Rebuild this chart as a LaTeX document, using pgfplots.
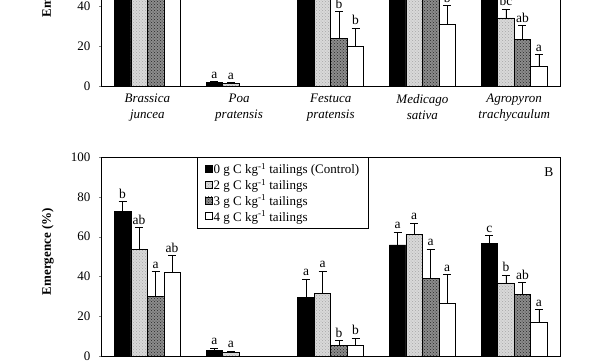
\documentclass[border=0pt]{standalone}
\usepackage{pgfplots}
\pgfplotsset{compat=1.18}
\usepackage{fontspec}
\setmainfont{Liberation Serif}
\usetikzlibrary{patterns}
\definecolor{lightbar}{gray}{0.85}
\definecolor{darkbar}{gray}{0.55}
\pgfplotsset{
  panel/.style={
    ybar, bar width=16.5pt,
    scale only axis, width=458.5pt, height=199pt, anchor=south west,
    xmin=-0.5, xmax=4.5, ymin=0, ymax=100,
    ytick={0,20,...,100}, xtick={0,1,2,3,4},
    xticklabels={{\textit{Brassica}\\\textit{juncea}},{\textit{Poa}\\\textit{pratensis}},{\textit{Festuca}\\\textit{pratensis}},{\textit{Medicago}\\\textit{sativa}},{\textit{Agropyron}\\\textit{trachycaulum}}},
    xticklabel style={align=center, font=\fontsize{13}{16}\selectfont, yshift=-2pt},
    yticklabel style={font=\fontsize{13}{15}\selectfont, xshift=-5pt},
    /pgf/number format/assume math mode=true,
    tick align=outside, ytick pos=left, major tick length=2.5pt,
    xtick style={draw=none},
    axis line style={line width=0.7pt},
    every axis y label/.style={rotate=90, anchor=center, font=\fontsize{13}{15}\selectfont\bfseries},
    ylabel={Emergence (\%)},
    legend image code/.code={\draw[#1] (0pt,-3pt) rectangle (7pt,4pt);},
  },
  barcommon/.style={draw=black, line width=0.7pt,
    error bars/y dir=plus, error bars/y explicit,
    error bars/error bar style={line width=0.7pt, black},
    error bars/error mark options={rotate=90, mark size=4pt, line width=0.7pt, black}},
  b0/.style={barcommon, bar shift=-24.75pt, fill=black},
  b1/.style={barcommon, bar shift=-8.25pt, fill=lightbar, postaction={pattern=crosshatch dots, pattern color=gray!70}},
  b2/.style={barcommon, bar shift=8.25pt, fill=darkbar, postaction={pattern=crosshatch dots, pattern color=black!85}},
  b3/.style={barcommon, bar shift=24.75pt, fill=white},
  lett/.style={bar shift=#1, draw=none, fill=none, forget plot,
    nodes near coords, point meta=explicit symbolic,
    every node near coord/.append style={font=\fontsize{13.5}{15}\selectfont, inner sep=1pt, yshift=2pt}},
}
\begin{document}
\begin{tikzpicture}[x=1pt,y=1pt]
\useasboundingbox (0,0) rectangle (600,360);
\clip (0,0) rectangle (600,360);
% ---------- Panel A (top, cropped) ----------
\begin{axis}[panel, at={(101.5pt,274pt)},
  every axis y label/.append style={at={(axis description cs:-0.117,0.565)}}]
\addplot[b0] coordinates {(0,85) +- (0,4) (1,1.6) +- (0,0.6) (2,60) +- (0,5) (3,62) +- (0,5) (4,55) +- (0,5)};
\addplot[b1] coordinates {(0,80) +- (0,5) (1,1.2) +- (0,0.4) (2,52) +- (0,6) (3,60) +- (0,5) (4,34.2) +- (0,4.5)};
\addplot[b2] coordinates {(0,76) +- (0,5) (2,23.7) +- (0,13.8) (3,57) +- (0,6) (4,23.2) +- (0,7.1)};
\addplot[b3] coordinates {(0,72) +- (0,5) (2,19.8) +- (0,9.3) (3,30.8) +- (0,9.6) (4,10.1) +- (0,5.6)};
\addplot[lett=-24.75pt] coordinates {(1,2.2)[a]};
\addplot[lett=-8.25pt] coordinates {(1,1.6)[a] (4,38.7)[bc]};
\addplot[lett=8.25pt] coordinates {(2,37.5)[b] (4,30.3)[ab]};
\addplot[lett=24.75pt] coordinates {(2,29.1)[b] (3,40.4)[b] (4,15.7)[a]};
\end{axis}
% ---------- Panel B (bottom) ----------
\begin{axis}[panel, at={(101.5pt,4pt)},
  every axis y label/.append style={at={(axis description cs:-0.117,0.524)}},
  legend style={at={(axis description cs:0.2076,1)}, anchor=north west, draw=black, line width=0.5pt,
    font=\fontsize{13}{15}\selectfont, inner xsep=8pt, inner ysep=5pt, row sep=2pt,
    nodes={inner sep=1pt}},
  legend cell align=left]
\addplot[b0] coordinates {(0,72.7) +- (0,5) (1,2.8) +- (0,1.2) (2,29.5) +- (0,9.2) (3,55.8) +- (0,6.4) (4,56.6) +- (0,4)};
\addlegendentry{0 g C kg\textsuperscript{-1} tailings (Control)}
\addplot[b1] coordinates {(0,53.5) +- (0,11) (1,1.6) +- (0,0.9) (2,31.5) +- (0,11.1) (3,61.3) +- (0,5.5) (4,36.7) +- (0,4)};
\addlegendentry{2 g C kg\textsuperscript{-1} tailings}
\addplot[b2] coordinates {(0,30) +- (0,12.3) (2,5.2) +- (0,2.5) (3,39) +- (0,14.8) (4,31) +- (0,6)};
\addlegendentry{3 g C kg\textsuperscript{-1} tailings}
\addplot[b3] coordinates {(0,42) +- (0,8.4) (2,5.2) +- (0,3.7) (3,26.6) +- (0,14.4) (4,16.9) +- (0,6.4)};
\addlegendentry{4 g C kg\textsuperscript{-1} tailings}
\addplot[lett=-24.75pt] coordinates {(0,77.7)[b] (1,4)[a] (2,38.7)[a] (3,62.2)[a] (4,60.6)[c]};
\addplot[lett=-8.25pt] coordinates {(0,64.5)[ab] (1,2.5)[a] (2,42.6)[a] (3,66.8)[a] (4,40.7)[b]};
\addplot[lett=8.25pt] coordinates {(0,42.3)[a] (2,7.7)[b] (3,53.8)[a] (4,37)[ab]};
\addplot[lett=24.75pt] coordinates {(0,50.4)[ab] (2,8.9)[b] (3,41)[a] (4,23.3)[a]};
\node at (rel axis cs:0.976,0.925) {\fontsize{13.5}{15}\selectfont B};
\end{axis}
\end{tikzpicture}
\end{document}
